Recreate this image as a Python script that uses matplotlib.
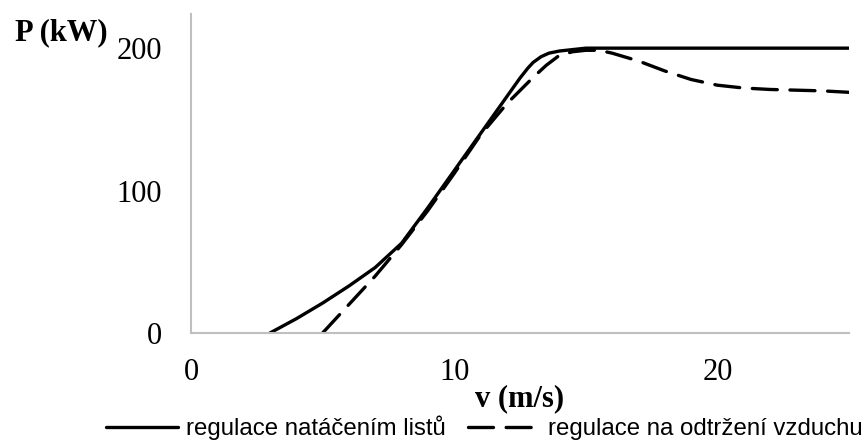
import matplotlib
matplotlib.use('Agg')
import matplotlib.pyplot as plt

# wind speed (m/s) and power (kW)
v_pitch = [3, 4, 5, 6, 7, 8, 9, 10, 11, 12, 12.5, 12.8, 13, 13.3, 13.6, 14, 14.5, 15, 16, 18, 20, 22, 25]
p_pitch = [0, 10, 21, 33, 46, 63, 88, 114, 140, 166, 179, 186, 190, 194, 196.5, 198, 199, 200, 200, 200, 200, 200, 200]

v_stall = [5, 6, 7, 8, 9, 10, 11, 12, 13, 13.5, 14, 14.5, 15, 15.5, 16, 17, 18, 19, 20, 21, 22, 23, 24, 25]
p_stall = [0, 20, 40, 62, 86, 112, 139, 161, 179.5, 188, 195, 197.5, 198.5, 198.5, 196.5, 191, 184, 178, 174, 172, 171, 170.5, 170, 169]

label_pitch = 'regulace natáčením listů'
label_stall = 'regulace na odtržení vzduchu'

serif = 'Liberation Serif'
sans = ['Liberation Sans Narrow', 'Liberation Sans', 'DejaVu Sans']

fig = plt.figure(figsize=(8.65, 4.41), dpi=100)
ax = fig.add_axes([0.2208, 0.2449, 0.7607, 0.7234])

ax.plot(v_pitch, p_pitch, color='black', lw=2.4, solid_capstyle='round',
        solid_joinstyle='round', label=label_pitch)
ax.plot(v_stall, p_stall, color='black', lw=2.4, dashes=(7.5, 3.8),
        dash_capstyle='round', label=label_stall)

ax.set_xlim(0, 25)
ax.set_ylim(0, 224)
ax.set_xticks([0, 10, 20])
ax.set_yticks([0, 100, 200])

for s in ['top', 'right']:
    ax.spines[s].set_visible(False)
for s in ['left', 'bottom']:
    ax.spines[s].set_color('#BFBFBF')
    ax.spines[s].set_linewidth(1.5)

ax.tick_params(axis='both', length=0, labelsize=22)
ax.tick_params(axis='x', pad=18)
ax.tick_params(axis='y', pad=21)
for t in ax.get_xticklabels() + ax.get_yticklabels():
    t.set_fontfamily(serif)

ax.set_xlabel('v (m/s)', fontfamily=serif, fontsize=22, fontweight='bold',
              labelpad=-2)
fig.text(0.017, 0.925, 'P (kW)', fontfamily=serif, fontsize=22,
         fontweight='bold', va='center', ha='left')

leg = fig.legend(loc='center', bbox_to_anchor=(0.560, 0.03), ncol=2,
                 frameon=False, handlelength=3.0, handletextpad=0.35,
                 columnspacing=0.9, prop={'family': sans, 'size': 17.3})

fig.savefig('out.png', dpi=100)
